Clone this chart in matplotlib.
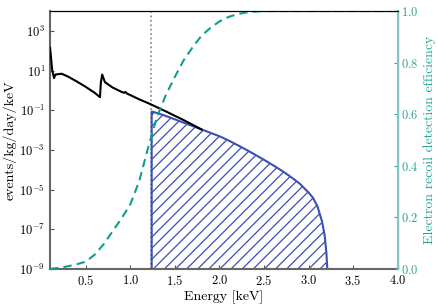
import numpy as np
import matplotlib
matplotlib.use("Agg")
import matplotlib.pyplot as plt
from matplotlib.ticker import FixedLocator, NullLocator

plt.rcParams["font.family"] = "serif"
plt.rcParams["font.serif"] = ["cmr10"]
plt.rcParams["mathtext.fontset"] = "cm"
plt.rcParams["axes.unicode_minus"] = False
plt.rcParams["axes.formatter.use_mathtext"] = True
plt.rcParams["hatch.linewidth"] = 0.9

# background spectrum (events/kg/day/keV), log10 values
bkg_E = [0.10, 0.125, 0.145, 0.16, 0.23, 0.30, 0.40, 0.50, 0.60, 0.66,
         0.67, 0.685, 0.715, 0.80, 0.90, 0.93, 0.945, 0.96, 1.10, 1.22, 1.40, 1.60, 1.80]
bkg_log = [2.15, 1.0, 0.62, 0.80, 0.84, 0.70, 0.45, 0.18, -0.12, -0.34,
           0.40, 0.80, 0.42, 0.15, -0.07, -0.12, -0.08, -0.15, -0.45, -0.68, -1.06, -1.50, -1.97]

# signal spectrum above threshold, log10 values
sig_E = [1.24, 1.245, 1.30, 1.40, 1.50, 1.60, 1.70, 1.80, 1.90, 2.00, 2.10, 2.20,
         2.30, 2.40, 2.50, 2.60, 2.70, 2.80, 2.90, 3.00, 3.05, 3.10, 3.15, 3.18,
         3.20, 3.21]
sig_log = [-1.07, -1.07, -1.14, -1.29, -1.46, -1.63, -1.80, -1.97, -2.14, -2.31, -2.52, -2.75,
           -2.99, -3.24, -3.50, -3.77, -4.05, -4.36, -4.70, -5.15, -5.42, -5.85, -6.6, -7.3,
           -8.2, -9.0]

# electron recoil detection efficiency
eff_E = [0.10, 0.20, 0.30, 0.40, 0.50, 0.60, 0.70, 0.80, 0.90, 1.00, 1.10, 1.20,
         1.30, 1.40, 1.50, 1.60, 1.70, 1.80, 1.90, 2.00, 2.10, 2.20, 2.30, 2.40,
         2.50, 3.00, 3.50, 4.00]
eff = [0.0, 0.004, 0.010, 0.018, 0.028, 0.055, 0.095, 0.145, 0.195, 0.25, 0.34, 0.47,
       0.59, 0.675, 0.745, 0.81, 0.86, 0.905, 0.935, 0.96, 0.977, 0.988, 0.995, 0.998,
       1.0, 1.0, 1.0, 1.0]

threshold = 1.237

teal = "#119e8c"
blue = "#3c4fb4"

fig = plt.figure(figsize=(4.39, 3.08), dpi=100)
ax = fig.add_axes([0.114, 0.127, 0.792, 0.837])

ax.plot(bkg_E, 10 ** np.array(bkg_log), color="black", lw=1.5, zorder=3)
sig = 10 ** np.array(sig_log)
ax.fill_between(sig_E, 1e-9, sig, facecolor="none", edgecolor=blue,
                hatch="///", lw=0, zorder=2)
ax.plot([sig_E[0]] + sig_E, [1e-9] + list(sig), color=blue, lw=1.5, zorder=2)
ax.axvline(threshold, color="grey", ls=":", lw=1.2, zorder=1)

ax.set_yscale("log")
ax.set_xlim(0.1, 4.0)
ax.set_ylim(1e-9, 1e4)
ax.yaxis.set_major_locator(FixedLocator([1e-9, 1e-7, 1e-5, 1e-3, 1e-1, 1e1, 1e3]))
ax.yaxis.set_minor_locator(NullLocator())
ax.set_xticks([0.5, 1.0, 1.5, 2.0, 2.5, 3.0, 3.5, 4.0])
ax.set_xlabel("Energy [keV]", fontsize=10, labelpad=2)
ax.set_ylabel("events/kg/day/keV", fontsize=10, labelpad=2)
ax.tick_params(direction="in", labelsize=9, length=3, color="#555555")
ax.spines["left"].set_color("#666666")
ax.spines["bottom"].set_color("#666666")
ax.spines["left"].set_linewidth(1.5)
ax.spines["bottom"].set_linewidth(1.5)

ax2 = ax.twinx()
ax2.plot(eff_E, eff, color=teal, ls="--", lw=1.5, dashes=(4, 2.5))
ax2.set_ylim(0, 1)
ax2.set_ylabel("Electron recoil detection efficiency", color="#2aa595", fontsize=10, labelpad=4)
ax2.tick_params(axis="y", direction="in", colors="#2aa595", labelsize=9, length=3, pad=2)
ax2.spines["right"].set_color("#80c4bd")
ax2.spines["right"].set_linewidth(1.5)
ax2.spines["left"].set_visible(False)
ax2.spines["bottom"].set_visible(False)

fig.savefig("out.png", dpi=100)
